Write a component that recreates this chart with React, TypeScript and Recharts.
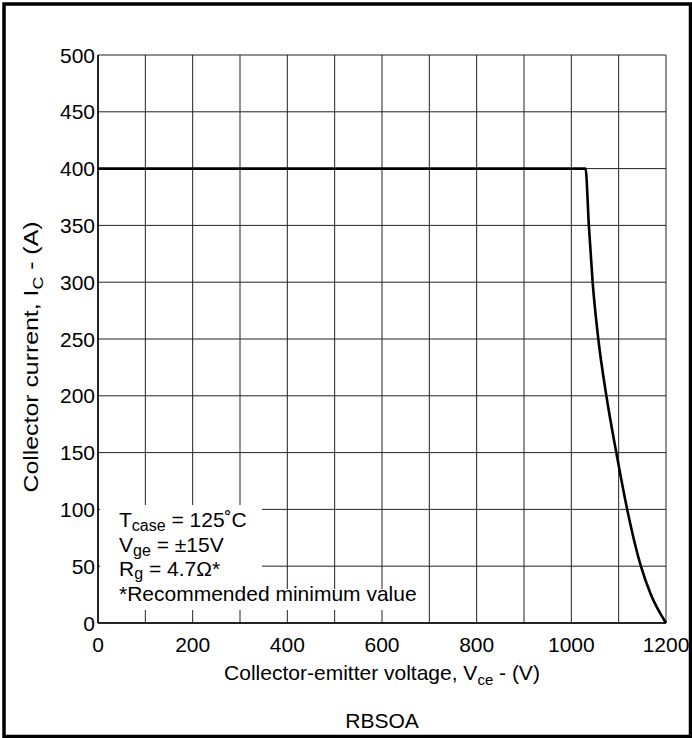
import React from 'react';
import { LineChart, Line, XAxis, YAxis, CartesianGrid } from 'recharts';

// RBSOA curve
const vceVolts = [0, 1030, 1037, 1045, 1057, 1074, 1095, 1118, 1147, 1168, 1200];
const icAmps = [400, 400, 350, 300, 250, 200, 150, 100, 50, 25, 0];

const xTicks = [0, 100, 200, 300, 400, 500, 600, 700, 800, 900, 1000, 1100, 1200];
const xLabeled = [0, 200, 400, 600, 800, 1000, 1200];
const yTicks = [0, 50, 100, 150, 200, 250, 300, 350, 400, 450, 500];

const FONT = '"Liberation Sans", Arial, Helvetica, sans-serif';

const data = vceVolts.map((v, i) => ({ v, ic: icAmps[i] }));

function XTick(props: any) {
  const { x, y, payload } = props;
  if (!xLabeled.includes(payload.value)) return null;
  return (
    <text x={x} y={y + 29} textAnchor="middle" fontSize={21} fontFamily={FONT} fill="#000">
      {payload.value}
    </text>
  );
}

function YTick(props: any) {
  const { x, y, payload } = props;
  return (
    <text x={x - 3} y={y + 7.5} textAnchor="end" fontSize={21} fontFamily={FONT} fill="#000">
      {payload.value}
    </text>
  );
}

export default function App() {
  return (
    <div style={{ position: 'absolute', left: 0, top: 0, width: 692, height: 738, background: '#fff' }}>
      <LineChart width={692} height={738} data={data} margin={{ top: 55, right: 26, bottom: 85, left: 38 }}>
        <CartesianGrid stroke="#222" strokeWidth={1} />
        <XAxis
          type="number"
          dataKey="v"
          domain={[0, 1200]}
          ticks={xTicks}
          interval={0}
          tick={<XTick />}
          tickLine={false}
          tickSize={0}
          tickMargin={0}
          height={30}
          axisLine={{ stroke: '#000', strokeWidth: 1.5 }}
        />
        <YAxis
          type="number"
          domain={[0, 500]}
          ticks={yTicks}
          interval={0}
          tick={<YTick />}
          tickLine={false}
          tickSize={0}
          tickMargin={0}
          width={60}
          axisLine={{ stroke: '#000', strokeWidth: 1.5 }}
        />
        <Line
          type="monotone"
          dataKey="ic"
          stroke="#000"
          strokeWidth={2.6}
          dot={false}
          isAnimationActive={false}
        />
      </LineChart>
      <svg
        width={692}
        height={738}
        style={{ position: 'absolute', left: 0, top: 0, pointerEvents: 'none' }}
        fontFamily={FONT}
      >
        <rect x={4} y={4} width={686.5} height={732.5} fill="none" stroke="#000" strokeWidth={3.5} />
        {/* conditions box */}
        <rect x={100} y={505} width={162} height={85} fill="#fff" />
        <rect x={100} y={589} width={324} height={21} fill="#fff" />
        <text x={119} y={527} fontSize={21} fill="#000">
          T<tspan fontSize={16} dy={4}>case</tspan>
          <tspan dy={-4}> = 125˚C</tspan>
        </text>
        <text x={119} y={552} fontSize={21} fill="#000">
          V<tspan fontSize={16} dy={4}>ge</tspan>
          <tspan dy={-4}> = ±15V</tspan>
        </text>
        <text x={119} y={576} fontSize={21} fill="#000">
          R<tspan fontSize={16} dy={3}>g</tspan>
          <tspan dy={-3}> = 4.7Ω*</tspan>
        </text>
        <text x={119} y={601} fontSize={21} fill="#000">
          *Recommended minimum value
        </text>
        {/* axis titles */}
        <text x={382} y={680} fontSize={21} textAnchor="middle" fill="#000">
          Collector-emitter voltage, V<tspan fontSize={15} dy={5}>ce</tspan>
          <tspan dy={-5}> - (V)</tspan>
        </text>
        <text
          transform="translate(38, 357) rotate(-90)"
          fontSize={21}
          textAnchor="middle"
          textLength={271}
          lengthAdjust="spacingAndGlyphs"
          fill="#000"
        >
          Collector current, I<tspan fontSize={15} dy={5}>C</tspan>
          <tspan dy={-5}> - (A)</tspan>
        </text>
        <text x={382} y={728} fontSize={21} textAnchor="middle" fill="#000">
          RBSOA
        </text>
      </svg>
    </div>
  );
}
